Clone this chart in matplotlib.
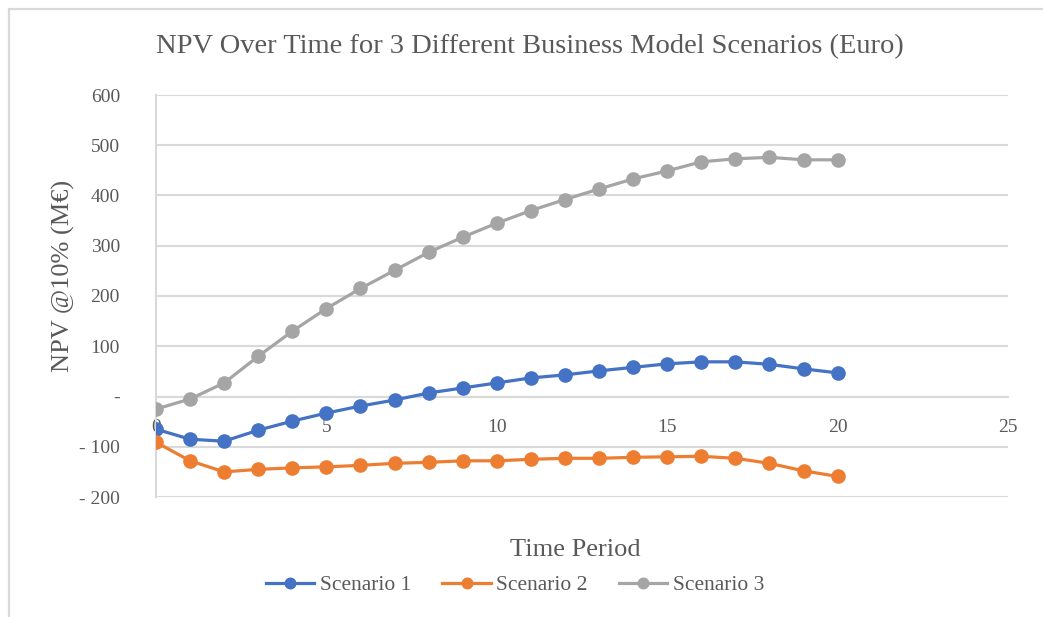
import matplotlib
matplotlib.use("Agg")
import matplotlib.pyplot as plt
from matplotlib.patches import Rectangle
from matplotlib.ticker import FuncFormatter, FixedLocator

# NPV @10% (M€) by time period for each business model scenario
periods = list(range(0, 21))
scenario_1 = [-65, -85, -89, -67, -49, -33, -19, -7, 7, 17, 27, 37, 43,
              51, 58, 65, 69, 69, 64, 55, 47]
scenario_2 = [-91, -128, -150, -145, -142, -140, -137, -133, -131, -128, -128,
              -125, -123, -123, -121, -120, -119, -123, -133, -148, -159]
scenario_3 = [-25, -5, 27, 80, 130, 175, 215, 251, 287, 317, 345, 370, 392,
              413, 433, 449, 467, 473, 476, 471, 471]
series_names = ["Scenario 1", "Scenario 2", "Scenario 3"]
x_ticks = [0, 5, 10, 15, 20, 25]
y_ticks = [-200, -100, 0, 100, 200, 300, 400, 500, 600]

title_text = "NPV Over Time for 3 Different Business Model Scenarios (Euro)"
x_title = "Time Period"
y_title = "NPV @10% (M€)"

colors = ["#4472C4", "#ED7D31", "#A5A5A5"]
text_color = "#595959"
grid_color = "#D9D9D9"

plt.rcParams["font.family"] = ["Liberation Serif", "DejaVu Serif"]

W, H = 1043, 617
fig = plt.figure(figsize=(W / 100, H / 100), dpi=100)

# outer chart frame
fig.patches.append(Rectangle((9 / W, -0.1), 1.2, 1 - 9 / H + 0.1,
                             transform=fig.transFigure, fill=False,
                             edgecolor=grid_color, linewidth=1.6))

ax = fig.add_axes([156 / W, 1 - 497 / H, 852 / W, 402 / H])
for vals, name, c in zip([scenario_1, scenario_2, scenario_3], series_names, colors):
    ax.plot(periods, vals, color=c, linewidth=2.3, marker="o",
            markersize=9.5, label=name, zorder=3)

ax.set_xlim(0, 25)
ax.set_ylim(-200, 600)
ax.xaxis.set_major_locator(FixedLocator(x_ticks))
ax.yaxis.set_major_locator(FixedLocator(y_ticks))


def acct(v, pos):
    if v == 0:
        return "-"
    if v < 0:
        return "- " + f"{int(-v)}"
    return f"{int(v)}"


ax.yaxis.set_major_formatter(FuncFormatter(acct))
ax.grid(axis="y", color=grid_color, linewidth=1.5, zorder=0)
ax.set_axisbelow(True)

for s in ["top", "right"]:
    ax.spines[s].set_visible(False)
ax.spines["left"].set_color(grid_color)
ax.spines["left"].set_linewidth(1.5)
ax.spines["bottom"].set_position(("data", 0))
ax.spines["bottom"].set_color(grid_color)
ax.spines["bottom"].set_linewidth(1.5)

ax.tick_params(axis="both", length=0, labelcolor=text_color, labelsize=14)
ax.tick_params(axis="y", pad=26)
ax.tick_params(axis="x", pad=16)

fig.text(530 / W, 1 - 47 / H, title_text, ha="center", va="center",
         fontsize=20.5, color=text_color)
fig.text(575 / W, 1 - 550 / H, x_title, ha="center", va="center",
         fontsize=19, color=text_color)
fig.text(63 / W, 1 - 276 / H, y_title, ha="center", va="center",
         rotation=90, fontsize=19, color=text_color)

fig.legend(loc="center", bbox_to_anchor=(515 / W, 1 - 585 / H), ncol=3,
           frameon=False, fontsize=15.5, labelcolor=text_color,
           handlelength=2.25, handletextpad=0.25, columnspacing=1.45,
           markerscale=0.8)

fig.savefig("out.png", dpi=100)
